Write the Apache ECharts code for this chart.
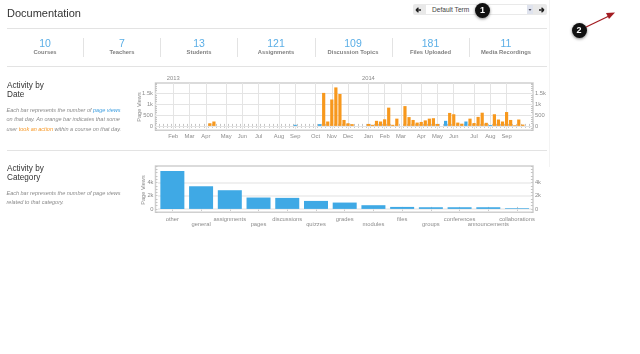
<!DOCTYPE html>
<html>
<head>
<meta charset="utf-8">
<title>Documentation</title>
<script src="https://cdn.jsdelivr.net/npm/echarts@6/dist/echarts.min.js"></script>
<style>
html, body { margin: 0; padding: 0; background: #fff; }
body { width: 640px; height: 354px; position: relative; overflow: hidden; font-family: "Liberation Sans", sans-serif; }
#chart { position: absolute; left: 0; top: 0; width: 640px; height: 354px; }
.t { position: absolute; white-space: nowrap; line-height: 1; }
.rule { position: absolute; left: 7px; width: 540px; height: 1px; background: #e3e3e3; }
.div { position: absolute; top: 38px; width: 1px; height: 19px; background: #e3e3e3; }
.num { top: 38px; width: 70px; text-align: center; font-size: 10.5px; color: #5aaee6; }
.lab { top: 49.5px; width: 76px; text-align: center; font-size: 5.8px; font-weight: bold; color: #808080; }
.h { left: 7px; font-size: 8.2px; color: #333; }
.desc { left: 6.5px; font-size: 5.5px; font-style: italic; color: #8a8a8a; }
.yname { width: 40px; height: 6px; text-align: center; font-size: 5.6px; color: #8c8c8c; transform: rotate(-90deg); }
.badge { position: absolute; width: 15px; height: 15px; border-radius: 50%; background: #111; color: #fff; font-size: 9px; font-weight: bold; line-height: 15px; text-align: center; box-shadow: 0 1px 3px rgba(0,0,0,.5); }
</style>
</head>
<body>
<div id="chart"></div>

<div class="t" style="left:7px;top:8px;font-size:11px;color:#333">Documentation</div>
<div class="rule" style="top:28px"></div>
<div class="rule" style="top:66px"></div>
<div class="rule" style="top:150px"></div>
<div style="position:absolute;left:549px;top:0;width:1px;height:167px;background:#f3f3f3"></div>

<div id="stats"></div>

<div style="position:absolute;left:413px;top:4px;width:134px;height:11px;background:#e9e9e9;border-radius:2px"></div>
<div style="position:absolute;left:426px;top:5px;width:101px;height:9px;background:#fff"></div>
<div style="position:absolute;left:527px;top:5px;width:6px;height:9px;background:#dfe3ee"></div>
<div class="t" style="left:432px;top:6.5px;font-size:6.6px;color:#444">Default Term</div>
<svg style="position:absolute;left:0;top:0" width="640" height="354">
  <path d="M416 10h5M416 10l2.5-2.2M416 10l2.5 2.2" stroke="#222" stroke-width="1.4" fill="none"/>
  <path d="M544 10h-5M544 10l-2.5-2.2M544 10l-2.5 2.2" stroke="#222" stroke-width="1.4" fill="none"/>
  <path d="M528.5 9l1.5 2 1.5-2z" fill="#556"/>
  <line x1="584" y1="28" x2="609" y2="16" stroke="#a31c22" stroke-width="1.3"/>
  <path d="M615 12.5l-9 .5 3 6z" fill="#a31c22"/>
</svg>
<div class="badge" style="left:475px;top:2.5px">1</div>
<div class="badge" style="left:571.5px;top:23px">2</div>

<div class="t h" style="top:81.5px">Activity by</div>
<div class="t h" style="top:91px">Date</div>
<div class="t desc" style="top:107.5px">Each bar represents the number of <span style="color:#3f9fe0">page views</span></div>
<div class="t desc" style="top:117px">on that day. An orange bar indicates that some</div>
<div class="t desc" style="top:126.5px">user <span style="color:#f7941d">took an action</span> within a course on that day.</div>

<div class="t h" style="top:164.5px">Activity by</div>
<div class="t h" style="top:174px">Category</div>
<div class="t desc" style="top:190.5px">Each bar represents the number of page views</div>
<div class="t desc" style="top:200px">related to that category.</div>

<div class="t yname" style="left:120px;top:104px">Page Views</div>
<div class="t yname" style="left:124px;top:187px">Page Views</div>

<script>
// header numbers
const statValues = ['10', '7', '13', '121', '109', '181', '11'];
const statNames = ['Courses', 'Teachers', 'Students', 'Assignments', 'Discussion Topics', 'Files Uploaded', 'Media Recordings'];
const statCenters = [45, 122, 199, 276, 353, 430.5, 506];
const statDividers = [83, 160, 237, 315, 392, 469];

// activity by date, one entry per week
const weekLabels = [
  '', '', '', '', 'Feb', '', '', '', 'Mar', '',
  '', '', 'Apr', '', '', '', '', 'May', '', '',
  '', 'Jun', '', '', '', 'Jul', '', '', '', '',
  'Aug', '', '', '', 'Sep', '', '', '', '', 'Oct',
  '', '', '', 'Nov', '', '', '', 'Dec', '', '',
  '', '', 'Jan', '', '', '', 'Feb', '', '', '',
  'Mar', '', '', '', '', 'Apr', '', '', '', 'May',
  '', '', '', 'Jun', '', '', '', '', 'Jul', '',
  '', '', 'Aug', '', '', '', 'Sep', '', '', '',
  '', '', ''
];
const actionViews = [
  0, 0, 0, 0, 0, 0, 0, 0, 0, 0,
  0, 0, 0, 120, 200, 0, 0, 0, 0, 0,
  0, 0, 0, 0, 0, 0, 0, 0, 0, 0,
  0, 0, 0, 0, 0, 0, 0, 0, 0, 0,
  0, 1500, 200, 1200, 1750, 1450, 270, 120, 80, 0,
  0, 0, 90, 50, 230, 200, 300, 830, 50, 330,
  0, 900, 400, 270, 150, 180, 250, 330, 350, 90,
  0, 0, 590, 530, 150, 100, 0, 330, 130, 410,
  600, 140, 0, 530, 290, 200, 630, 270, 30, 290,
  60, 0, 0
];
const plainViews = [
  0, 0, 0, 0, 0, 0, 0, 0, 0, 0,
  0, 0, 0, 0, 0, 0, 0, 0, 0, 0,
  0, 0, 0, 0, 0, 0, 0, 0, 0, 0,
  0, 0, 0, 0, 50, 0, 0, 0, 0, 0,
  80, 0, 0, 0, 0, 0, 0, 0, 0, 0,
  0, 0, 0, 0, 0, 0, 0, 0, 0, 0,
  0, 0, 0, 0, 0, 0, 0, 0, 0, 0,
  0, 230, 0, 0, 0, 0, 200, 0, 0, 0,
  0, 0, 40, 0, 0, 0, 0, 0, 0, 0,
  0, 0, 0
];
const yearLabels = weekLabels.map((m, i) => (i === 4 ? '2013' : i === 52 ? '2014' : ''));
const dateLines = [0, 500, 1000, 1500];

// activity by category
const categories = ['other', 'general', 'assignments', 'pages', 'discussions', 'quizzes', 'grades', 'modules', 'files', 'groups', 'conferences', 'announcements', 'collaborations'];
const categoryViews = [5760, 3430, 2830, 1720, 1670, 1210, 960, 560, 300, 250, 250, 250, 100];
const categoryLines = [0, 2000, 4000];

document.getElementById('stats').innerHTML =
  statValues.map((v, i) => `<div class="t num" style="left:${statCenters[i] - 35}px">${v}</div>` +
    `<div class="t lab" style="left:${statCenters[i] - 38}px">${statNames[i]}</div>`).join('') +
  statDividers.map(x => `<div class="div" style="left:${x}px"></div>`).join('');

const GREY = '#8c8c8c';
const TICK = '#c4c4c4';
const GRID = '#e4e4e4';
const ORANGE = '#f7981d';
const BLUE = '#3fa9e5';

function kLabel(v) {
  if (v < 0 || v % 500 !== 0) return '';
  return v >= 1000 ? v / 1000 + 'k' : String(v);
}
function kLabelWhole(v) {
  if (v < 0 || v % 2000 !== 0 || v > 4000) return '';
  return v === 0 ? '0' : v / 1000 + 'k';
}
function guide(list, key, color, width) {
  return {
    silent: true, symbol: 'none', z: 1, animation: false,
    label: { show: false },
    lineStyle: { color: color, width: width, type: 'solid' },
    data: list.map(v => ({ [key]: v }))
  };
}
function tickAxis(pos, index, data, labelOpt) {
  return {
    type: 'category', gridIndex: index, position: pos, data: data,
    axisLine: { show: false },
    axisTick: { show: true, inside: true, length: 2, interval: 0, alignWithLabel: index === 1, lineStyle: { color: TICK, width: 1 } },
    axisLabel: labelOpt,
    splitLine: { show: false }
  };
}
function valueAxis(pos, index, min, max, interval, fmt, shift) {
  return {
    type: 'value', gridIndex: index, position: pos, min: min, max: max, interval: interval, offset: shift,
    axisLine: { show: false },
    axisTick: { show: true, inside: true, length: 2, lineStyle: { color: TICK, width: 1 } },
    axisLabel: { show: true, formatter: fmt, color: GREY, fontSize: 5.8, margin: 2, fontFamily: 'Liberation Sans', showMinLabel: true, showMaxLabel: true },
    splitLine: { show: false }
  };
}

const smallText = { color: GREY, fontSize: 5.8, fontFamily: 'Liberation Sans', interval: 0 };
const monthIndexes = weekLabels.map((m, i) => (m ? i : -1)).filter(i => i >= 0);

const myChart = echarts.init(document.getElementById('chart'), null, { renderer: 'canvas' });
myChart.setOption({
  animation: false,
  grid: [
    { left: 155, width: 378, top: 83, height: 47.3 },
    { left: 158, width: 373.4, top: 166, height: 46.2 },
    { left: 155.5, width: 377.5, top: 83, height: 47.3, show: true, borderColor: '#d0d0d0', borderWidth: 1.5, backgroundColor: 'transparent' },
    { left: 155.5, width: 377.5, top: 166, height: 46.2, show: true, borderColor: '#d0d0d0', borderWidth: 1.5, backgroundColor: 'transparent' }
  ],
  xAxis: [
    tickAxis('bottom', 0, weekLabels, Object.assign({}, smallText, { margin: 3 })),
    tickAxis('top', 0, yearLabels, Object.assign({}, smallText, { margin: 2 })),
    tickAxis('bottom', 1, categories, Object.assign({}, smallText, {
      margin: 4, lineHeight: 5.5, hideOverlap: false,
      formatter: (v, i) => (i % 2 ? '\n' + v : v)
    })),
    tickAxis('top', 1, categories, { show: false })
  ],
  yAxis: [
    valueAxis('left', 0, -200, 1950, 100, kLabel, 0),
    valueAxis('right', 0, -200, 1950, 100, kLabel, 0),
    valueAxis('left', 1, -500, 6500, 500, kLabelWhole, 2.5),
    valueAxis('right', 1, -500, 6500, 500, kLabelWhole, 1.5)
  ],
  series: [
    {
      name: 'Actions', type: 'bar', xAxisIndex: 0, yAxisIndex: 0, z: 3, data: actionViews,
      barWidth: 3.2, barGap: '-100%', itemStyle: { color: ORANGE },
      markLine: guide(monthIndexes, 'xAxis', GRID, 1)
    },
    {
      name: 'Views', type: 'bar', xAxisIndex: 0, yAxisIndex: 0, z: 3, data: plainViews,
      barWidth: 3.2, barGap: '-100%', itemStyle: { color: BLUE },
      markLine: guide(dateLines, 'yAxis', GRID, 1)
    },
    {
      name: 'Category', type: 'bar', xAxisIndex: 2, yAxisIndex: 2, z: 3, data: categoryViews,
      barWidth: 24, itemStyle: { color: BLUE },
      markLine: guide(categoryLines, 'yAxis', '#ebebeb', 1.5)
    }
  ]
});
</script>
</body>
</html>
